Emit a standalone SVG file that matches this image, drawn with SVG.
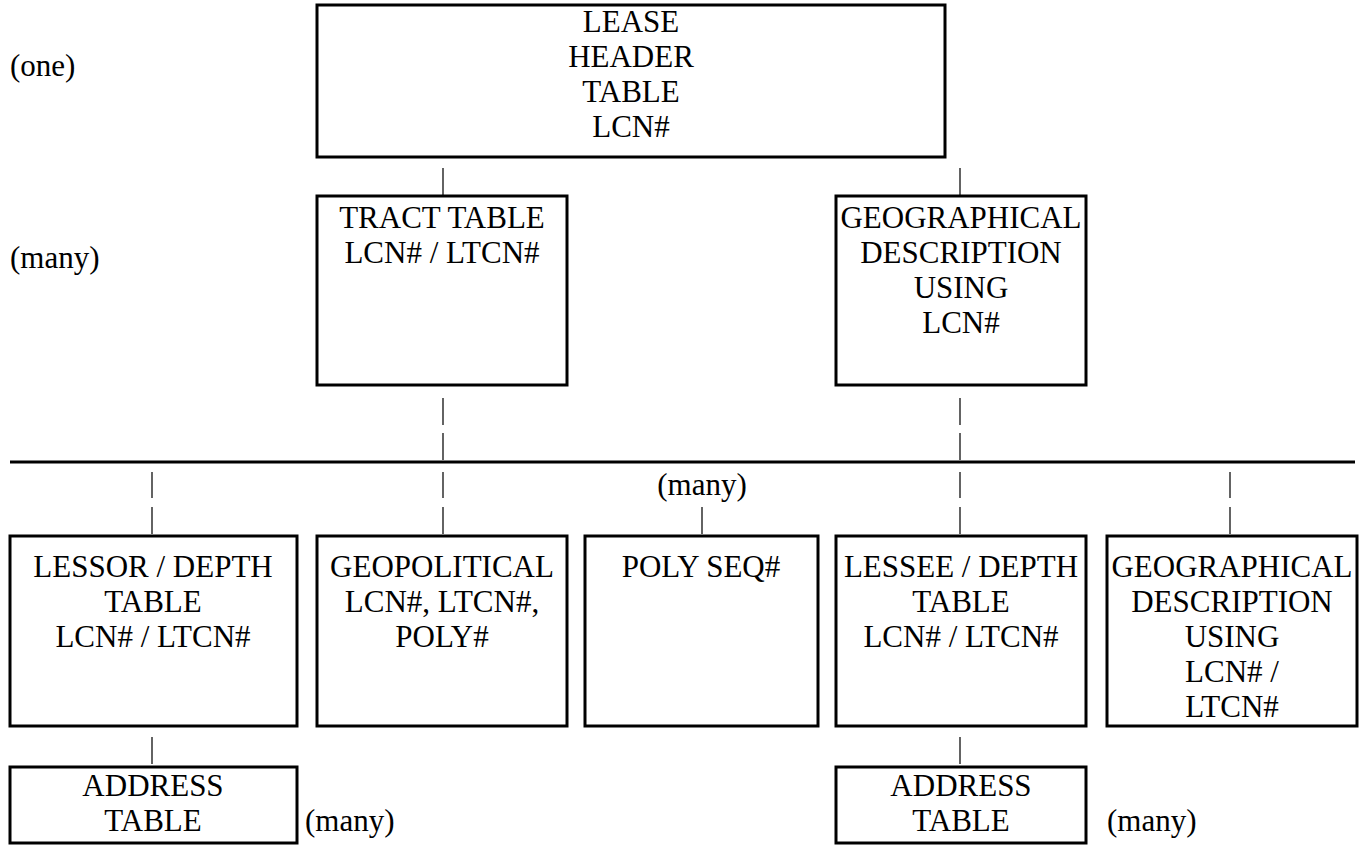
<svg xmlns="http://www.w3.org/2000/svg" width="1362" height="846" viewBox="0 0 1362 846">
<style>
  .box { fill: #fff; stroke: #000; stroke-width: 3; }
  .t { font-family: "Liberation Serif", "Times New Roman", serif; font-size: 31px; fill: #000; }
  .c { text-anchor: middle; }
  .pipe { stroke: #222; stroke-width: 1.4; fill: none; }
  .rule { stroke: #000; stroke-width: 3; fill: none; }
</style>
<rect width="1362" height="846" fill="#fff"/>

<g id="labels">
  <text class="t" x="10" y="76">(one)</text>
  <text class="t" x="10" y="268">(many)</text>
  <text class="t c" x="702" y="495">(many)</text>
  <text class="t" x="305" y="831">(many)</text>
  <text class="t" x="1107" y="831">(many)</text>
</g>

<g id="connectors">
  <line class="rule" x1="10" y1="462" x2="1355" y2="462"/>
  <line class="pipe" x1="443" y1="168" x2="443" y2="195"/>
  <line class="pipe" x1="960" y1="168" x2="960" y2="195"/>
  <line class="pipe" x1="443" y1="398" x2="443" y2="425"/>
  <line class="pipe" x1="443" y1="433" x2="443" y2="460"/>
  <line class="pipe" x1="960" y1="398" x2="960" y2="425"/>
  <line class="pipe" x1="960" y1="433" x2="960" y2="460"/>
  <line class="pipe" x1="152" y1="472" x2="152" y2="498"/>
  <line class="pipe" x1="152" y1="507" x2="152" y2="534"/>
  <line class="pipe" x1="443" y1="472" x2="443" y2="498"/>
  <line class="pipe" x1="443" y1="507" x2="443" y2="534"/>
  <line class="pipe" x1="960" y1="472" x2="960" y2="498"/>
  <line class="pipe" x1="960" y1="507" x2="960" y2="534"/>
  <line class="pipe" x1="1230" y1="472" x2="1230" y2="498"/>
  <line class="pipe" x1="1230" y1="507" x2="1230" y2="534"/>
  <line class="pipe" x1="702" y1="507" x2="702" y2="534"/>
  <line class="pipe" x1="152" y1="737" x2="152" y2="764"/>
  <line class="pipe" x1="960" y1="737" x2="960" y2="764"/>
</g>

<g id="lease-header">
  <rect class="box" x="317" y="5" width="628" height="152"/>
  <text class="t c" x="631" y="32">LEASE</text>
  <text class="t c" x="631" y="67">HEADER</text>
  <text class="t c" x="631" y="102">TABLE</text>
  <text class="t c" x="631" y="137">LCN#</text>
</g>

<g id="tract-table">
  <rect class="box" x="317" y="196" width="250" height="189"/>
  <text class="t c" x="442" y="228">TRACT TABLE</text>
  <text class="t c" x="442" y="263">LCN# / LTCN#</text>
</g>

<g id="geo-desc-lcn">
  <rect class="box" x="836" y="196" width="250" height="189"/>
  <text class="t c" x="961" y="228">GEOGRAPHICAL</text>
  <text class="t c" x="961" y="263">DESCRIPTION</text>
  <text class="t c" x="961" y="298">USING</text>
  <text class="t c" x="961" y="333">LCN#</text>
</g>

<g id="lessor-depth">
  <rect class="box" x="10" y="536" width="287" height="190"/>
  <text class="t c" x="153" y="577">LESSOR / DEPTH</text>
  <text class="t c" x="153" y="612">TABLE</text>
  <text class="t c" x="153" y="647">LCN# / LTCN#</text>
</g>

<g id="geopolitical">
  <rect class="box" x="317" y="536" width="250" height="190"/>
  <text class="t c" x="442" y="577">GEOPOLITICAL</text>
  <text class="t c" x="442" y="612">LCN#, LTCN#,</text>
  <text class="t c" x="442" y="647">POLY#</text>
</g>

<g id="poly-seq">
  <rect class="box" x="585" y="536" width="233" height="190"/>
  <text class="t c" x="701" y="577">POLY SEQ#</text>
</g>

<g id="lessee-depth">
  <rect class="box" x="836" y="536" width="250" height="190"/>
  <text class="t c" x="961" y="577">LESSEE / DEPTH</text>
  <text class="t c" x="961" y="612">TABLE</text>
  <text class="t c" x="961" y="647">LCN# / LTCN#</text>
</g>

<g id="geo-desc-ltcn">
  <rect class="box" x="1107" y="536" width="250" height="190"/>
  <text class="t c" x="1232" y="577">GEOGRAPHICAL</text>
  <text class="t c" x="1232" y="612">DESCRIPTION</text>
  <text class="t c" x="1232" y="647">USING</text>
  <text class="t c" x="1232" y="682">LCN# /</text>
  <text class="t c" x="1232" y="717">LTCN#</text>
</g>

<g id="address-lessor">
  <rect class="box" x="10" y="767" width="287" height="76"/>
  <text class="t c" x="153" y="796">ADDRESS</text>
  <text class="t c" x="153" y="831">TABLE</text>
</g>

<g id="address-lessee">
  <rect class="box" x="836" y="767" width="250" height="76"/>
  <text class="t c" x="961" y="796">ADDRESS</text>
  <text class="t c" x="961" y="831">TABLE</text>
</g>
</svg>
